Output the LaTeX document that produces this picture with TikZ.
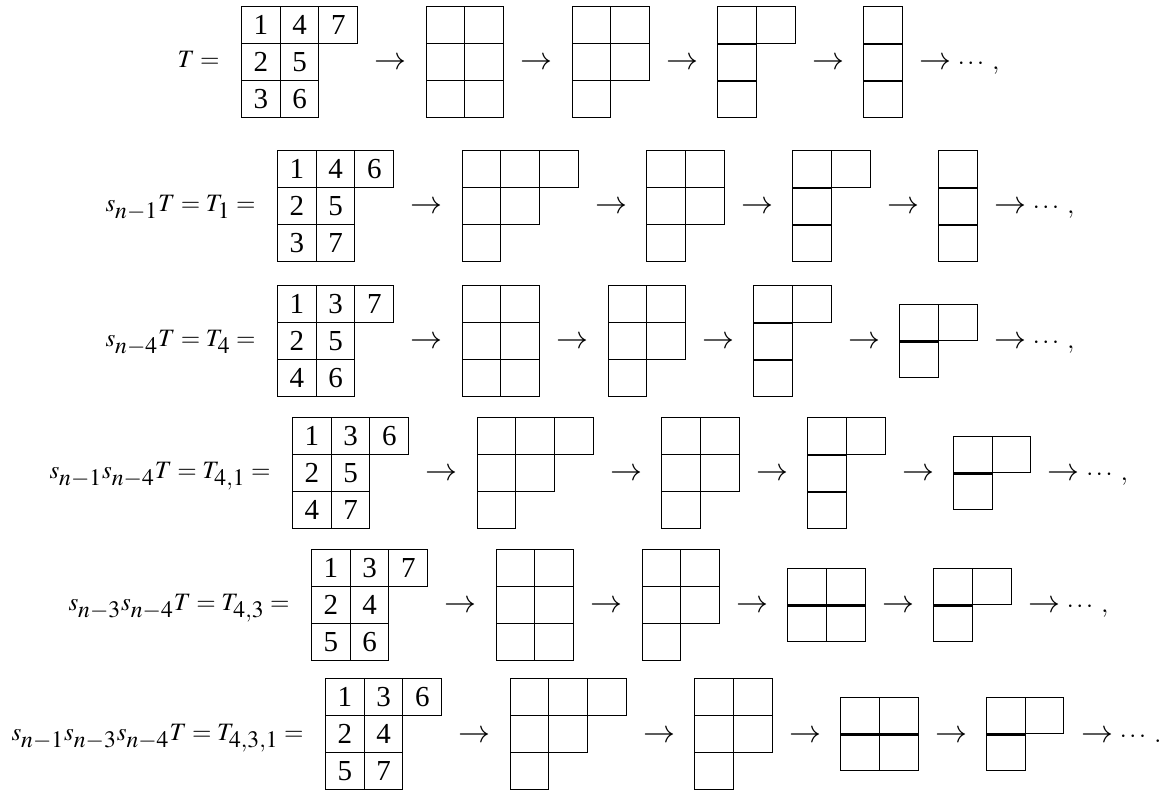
\documentclass[tikz,border=0pt]{standalone}
\usepackage{mathptmx}
\usepackage[no-math]{fontspec}
\setmainfont{Liberation Serif}
\usetikzlibrary{positioning}
\DeclareMathSizes{12.5}{12.5}{11.8}{8}

\newcommand{\cellw}{38.7}
\newcommand{\cellh}{36.9}
% empty Young diagram: name, left, top, row lengths
\newcommand{\ydiag}[4]{%
  \foreach \len [count=\ri] in {#4}{%
    \foreach \ci in {1,...,\len}{%
      \node[cellbox] (#1-\ri-\ci) at ({#2+(\ci-1)*\cellw},{#3+(\ri-1)*\cellh}) {};
    }}}
% filled tableau: name, left, top, rows of entries
\newcommand{\ytab}[4]{%
  \foreach \row [count=\ri] in {#4}{%
    \foreach \e [count=\ci] in \row{%
      \node[cellbox,entry] (#1-\ri-\ci) at ({#2+(\ci-1)*\cellw},{#3+(\ri-1)*\cellh}) {\e};
    }}}
% doubled edge under row #2, over #3 boxes
\newcommand{\seam}[3]{\draw[seamline] (#1-#2-1.south west) -- (#1-#2-#3.south east);}

\begin{document}
\begin{tikzpicture}[x=0.5pt,y=-0.5pt,font=\fontsize{12.5}{15}\selectfont,
  cellbox/.style={draw,line width=0.5pt,anchor=north west,inner sep=0pt,
    minimum width=19.35pt,minimum height=18.45pt},
  entry/.style={font=\fontsize{14.5}{17}\selectfont},
  seamline/.style={line width=1.2pt},
  arrowsym/.style={anchor=base west,inner sep=0pt,font=\fontsize{16}{19}\selectfont},
  dotsym/.style={anchor=base west,inner sep=0pt},
  lbl/.style={anchor=base east,inner sep=0pt}]
\useasboundingbox (0,0) rectangle (1174,789);

% row 1: T
\node[lbl] (r1lab) at (220,67.5) {$T =$};
\ytab{t1}{241}{6}{{1,4,7},{2,5},{3,6}}
\node[arrowsym] (r1a1) at (374,69) {$\to$};
\ydiag{t1b}{425.6}{6}{2,2,2}
\node[arrowsym] (r1a2) at (520,69) {$\to$};
\ydiag{t1c}{571.5}{6}{2,2,1}
\node[arrowsym] (r1a3) at (666,69) {$\to$};
\ydiag{t1d}{717.4}{6}{2,1,1}
\seam{t1d}{1}{1}\seam{t1d}{2}{1}
\node[arrowsym] (r1a4) at (812,69) {$\to$};
\ydiag{t1e}{863.3}{6}{1,1,1}
\seam{t1e}{1}{1}\seam{t1e}{2}{1}
\node[arrowsym] (r1a5) at (919,69) {$\to$};
\node[dotsym] (r1d) at (r1a5.base east) {$\;\cdots\;,$};

% row 2: T_1
\node[lbl] (r2lab) at (256,211.5) {$s_{n-1}T = T_1 =$};
\ytab{t2}{277}{150}{{1,4,6},{2,5},{3,7}}
\node[arrowsym] (r2a1) at (410,213) {$\to$};
\ydiag{t2b}{461.6}{150}{3,2,1}
\node[arrowsym] (r2a2) at (595,213) {$\to$};
\ydiag{t2c}{646.2}{150}{2,2,1}
\node[arrowsym] (r2a3) at (741,213) {$\to$};
\ydiag{t2d}{792.1}{150}{2,1,1}
\seam{t2d}{1}{1}\seam{t2d}{2}{1}
\node[arrowsym] (r2a4) at (887,213) {$\to$};
\ydiag{t2e}{938.0}{150}{1,1,1}
\seam{t2e}{1}{1}\seam{t2e}{2}{1}
\node[arrowsym] (r2a5) at (994,213) {$\to$};
\node[dotsym] (r2d) at (r2a5.base east) {$\;\cdots\;,$};

% row 3: T_4
\node[lbl] (r3lab) at (256,346.5) {$s_{n-4}T = T_4 =$};
\ytab{t3}{277}{285}{{1,3,7},{2,5},{4,6}}
\node[arrowsym] (r3a1) at (410,348) {$\to$};
\ydiag{t3b}{461.6}{285}{2,2,2}
\node[arrowsym] (r3a2) at (556,348) {$\to$};
\ydiag{t3c}{607.5}{285}{2,2,1}
\node[arrowsym] (r3a3) at (702,348) {$\to$};
\ydiag{t3d}{753.4}{285}{2,1,1}
\seam{t3d}{1}{1}\seam{t3d}{2}{1}
\node[arrowsym] (r3a4) at (848,348) {$\to$};
\ydiag{t3e}{899.3}{303.5}{2,1}
\seam{t3e}{1}{1}
\node[arrowsym] (r3a5) at (994,348) {$\to$};
\node[dotsym] (r3d) at (r3a5.base east) {$\;\cdots\;,$};

% row 4: T_{4,1}
\node[lbl] (r4lab) at (271,478.5) {$s_{n-1}s_{n-4}T = T_{4,1} =$};
\ytab{t4}{292}{417}{{1,3,6},{2,5},{4,7}}
\node[arrowsym] (r4a1) at (425,480) {$\to$};
\ydiag{t4b}{476.6}{417}{3,2,1}
\node[arrowsym] (r4a2) at (610,480) {$\to$};
\ydiag{t4c}{661.2}{417}{2,2,1}
\node[arrowsym] (r4a3) at (756,480) {$\to$};
\ydiag{t4d}{807.1}{417}{2,1,1}
\seam{t4d}{1}{1}\seam{t4d}{2}{1}
\node[arrowsym] (r4a4) at (902,480) {$\to$};
\ydiag{t4e}{953.0}{435.5}{2,1}
\seam{t4e}{1}{1}
\node[arrowsym] (r4a5) at (1047.5,480) {$\to$};
\node[dotsym] (r4d) at (r4a5.base east) {$\;\cdots\;,$};

% row 5: T_{4,3}
\node[lbl] (r5lab) at (290,610.5) {$s_{n-3}s_{n-4}T = T_{4,3} =$};
\ytab{t5}{311}{549}{{1,3,7},{2,4},{5,6}}
\node[arrowsym] (r5a1) at (444,612) {$\to$};
\ydiag{t5b}{495.6}{549}{2,2,2}
\node[arrowsym] (r5a2) at (590,612) {$\to$};
\ydiag{t5c}{641.5}{549}{2,2,1}
\node[arrowsym] (r5a3) at (736,612) {$\to$};
\ydiag{t5d}{787.4}{567.5}{2,2}
\seam{t5d}{1}{2}
\node[arrowsym] (r5a4) at (882,612) {$\to$};
\ydiag{t5e}{933.3}{567.5}{2,1}
\seam{t5e}{1}{1}
\node[arrowsym] (r5a5) at (1028,612) {$\to$};
\node[dotsym] (r5d) at (r5a5.base east) {$\;\cdots\;,$};

% row 6: T_{4,3,1}
\node[lbl] (r6lab) at (304,740.5) {$s_{n-1}s_{n-3}s_{n-4}T = T_{4,3,1} =$};
\ytab{t6}{325}{678}{{1,3,6},{2,4},{5,7}}
\node[arrowsym] (r6a1) at (458,742) {$\to$};
\ydiag{t6b}{509.6}{678}{3,2,1}
\node[arrowsym] (r6a2) at (643,742) {$\to$};
\ydiag{t6c}{694.2}{678}{2,2,1}
\node[arrowsym] (r6a3) at (789,742) {$\to$};
\ydiag{t6d}{840.1}{696.5}{2,2}
\seam{t6d}{1}{2}
\node[arrowsym] (r6a4) at (935,742) {$\to$};
\ydiag{t6e}{986.0}{696.5}{2,1}
\seam{t6e}{1}{1}
\node[arrowsym] (r6a5) at (1081,742) {$\to$};
\node[dotsym] (r6d) at (r6a5.base east) {$\;\cdots\;.$};
\end{tikzpicture}
\end{document}
